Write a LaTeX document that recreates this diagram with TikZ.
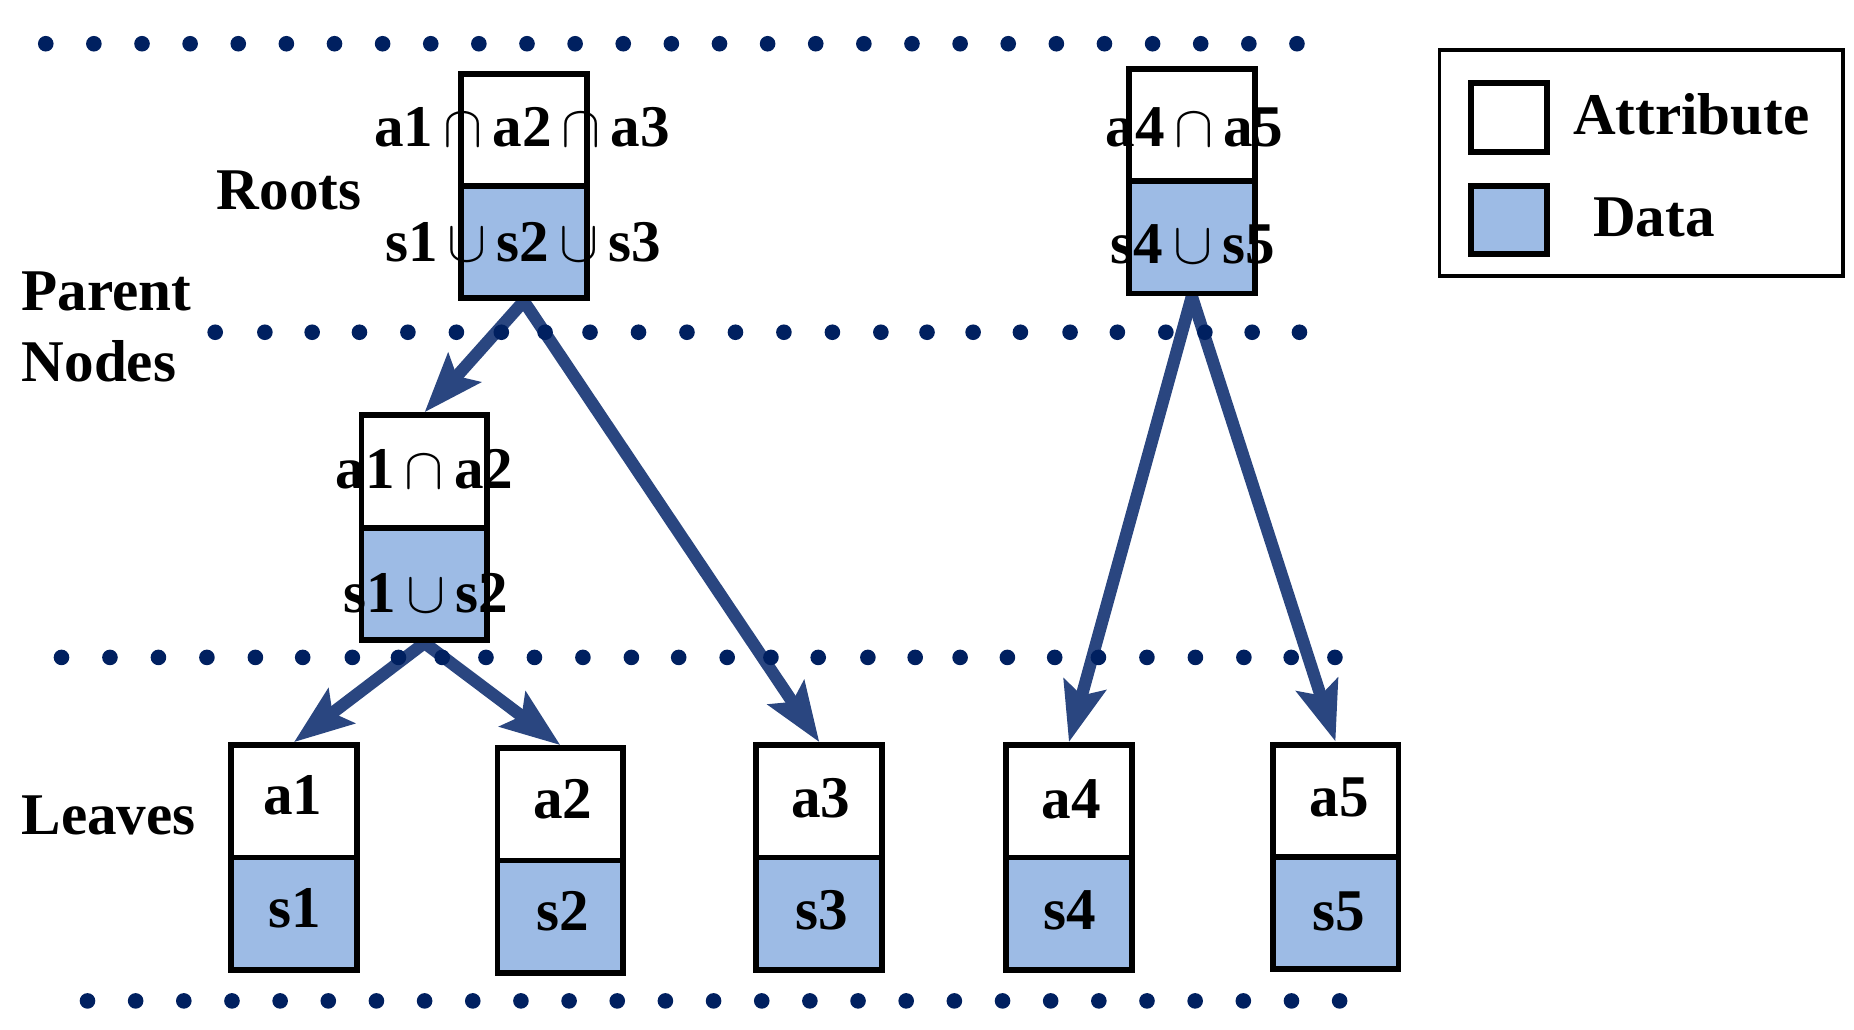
\documentclass[tikz,border=0pt]{standalone}
\usepackage{fontspec}
\setmainfont{Liberation Serif}
\usetikzlibrary{arrows.meta}
\definecolor{datafill}{RGB}{157,187,229}
\definecolor{arrowblue}{RGB}{42,70,128}
\definecolor{dotblue}{RGB}{0,32,96}
\pgfdeclarelayer{background}
\pgfsetlayers{background,main}
\newcommand{\icap}{\kern4.2pt$\cap$\kern4.2pt}
\newcommand{\icup}{\kern4.2pt$\cup$\kern4.2pt}
\begin{document}
\begin{tikzpicture}[x=0.5pt,y=-0.5pt,
  font=\fontsize{25}{30}\selectfont\bfseries,
  attrbox/.style={draw=black, line width=2.5pt, fill=white, minimum width=53.25pt, minimum height=47.5pt, inner sep=0pt},
  databox/.style={attrbox, fill=datafill},
  txt/.style={inner sep=0pt, anchor=center},
  link/.style={draw=arrowblue, line width=5.2pt, line cap=round, -{Stealth[length=25pt, width=18pt, inset=4.5pt]}},
  lbl/.style={anchor=base west, inner sep=0pt},
  dot/.style={fill=dotblue}]
\useasboundingbox (0,0) rectangle (1568,870.3);

% dotted separators
\foreach \i in {0,...,26} \fill[dot] (38.7+\i*40.7,37) circle[radius=3.3pt];
\foreach \x in {182,224,264,304,345,386,424,461,499,540,581,622,663,704,745,784,823,863,905,945,986,1019,1059,1099}
  \fill[dot] (\x,281) circle[radius=3.3pt];
\foreach \x in {52,93,134,175,216,256,298,337,374,411,452,493,534,574,615,652,692,734,774,812,852,892,929,970,1011,1052,1092,1129}
  \fill[dot] (\x,556) circle[radius=3.3pt];
\foreach \i in {0,...,26} \fill[dot] (74+\i*40.73,846.5) circle[radius=3.3pt];

% level labels
\node[lbl] (roots) at (183,177) {Roots};
\node[lbl] (parent) at (18,263) {Parent};
\node[lbl] (nodes) at (18,323) {Nodes};
\node[lbl] (leaves) at (18,706) {Leaves};

% roots
\node[attrbox] (r1a) at (443,109.75) {};
\node[databox] (r1d) at (443,204.75) {};
\node[attrbox] (r2a) at (1008,105.75) {};
\node[databox] (r2d) at (1008,200.75) {};

% parent node
\node[attrbox] (ma) at (359,398.75) {};
\node[databox] (md) at (359,493.75) {};

% leaves
\node[attrbox] (l1a) at (248.5,677.75) {};
\node[databox] (l1d) at (248.5,772.75) {};
\node[attrbox] (l2a) at (474,680.25) {};
\node[databox] (l2d) at (474,775.25) {};
\node[attrbox] (l3a) at (693,677.75) {};
\node[databox] (l3d) at (693,772.75) {};
\node[attrbox] (l4a) at (904,677.75) {};
\node[databox] (l4d) at (904,772.75) {};
\node[attrbox] (l5a) at (1129.5,677.25) {};
\node[databox] (l5d) at (1129.5,772.25) {};

% box texts
\node[txt] (r1at) at (441.5,107.5) {a1\icap a2\icap a3};
\node[txt] (r1dt) at (442.5,204.5) {s1\icup s2\icup s3};
\node[txt] (r2at) at (1010,108) {a4\icap a5};
\node[txt] (r2dt) at (1009,206.5) {s4\icup s5};
\node[txt] (mat) at (359,397) {a1\icap a2};
\node[txt] (mdt) at (360,502) {s1\icup s2};
\node[txt] (l1at) at (247.5,673) {a1};
\node[txt] (l1dt) at (249,768) {s1};
\node[txt] (l2at) at (476,676) {a2};
\node[txt] (l2dt) at (476,771) {s2};
\node[txt] (l3at) at (694,675.5) {a3};
\node[txt] (l3dt) at (695,770) {s3};
\node[txt] (l4at) at (906,676) {a4};
\node[txt] (l4dt) at (905,770) {s4};
\node[txt] (l5at) at (1132.5,674) {a5};
\node[txt] (l5dt) at (1132,771) {s5};

% legend
\node[draw=black, line width=1.5pt, minimum width=170.5pt, minimum height=95.5pt, inner sep=0pt] (legend) at (1388,138) {};
\node[attrbox, minimum width=32pt, minimum height=29pt] (legA) at (1276,99.5) {};
\node[databox, minimum width=32pt, minimum height=29pt] (legD) at (1276,186) {};
\node[lbl] (legAt) at (1330,114) {Attribute};
\node[lbl] (legDt) at (1347,200) {Data};

% connectors
\begin{pgfonlayer}{background}
\draw[link] (r1d.south) -- (ma.north);
\draw[link] (r1d.south) -- (l3a.north);
\draw[link] (md.south) -- (l1a.north);
\draw[link] (md.south) -- (l2a.north);
\draw[link] (r2d.south) -- (l4a.north);
\draw[link] (r2d.south) -- (l5a.north);
\end{pgfonlayer}
\end{tikzpicture}
\end{document}
